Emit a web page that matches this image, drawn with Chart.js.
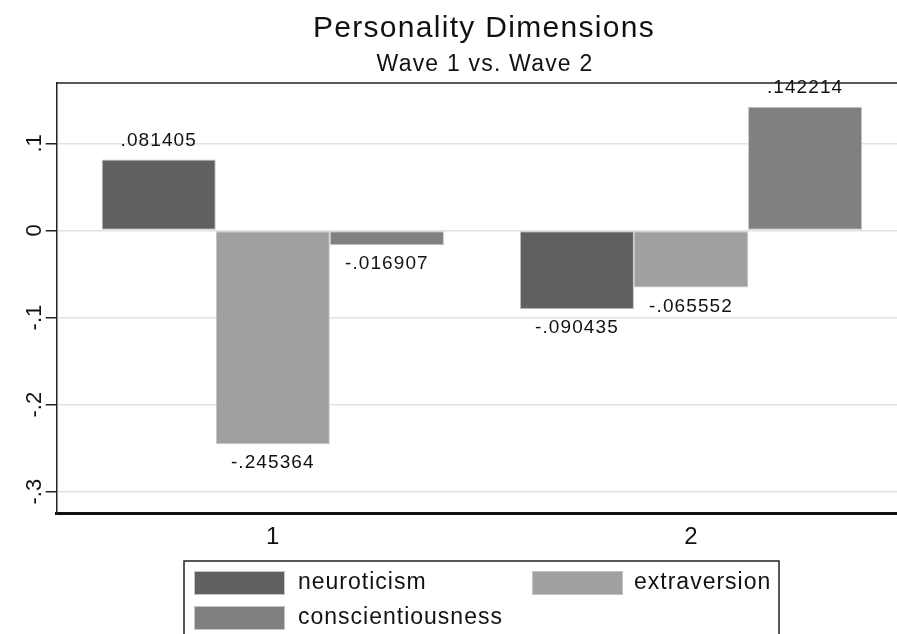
<!DOCTYPE html>
<html>
<head>
<meta charset="utf-8">
<script src="https://cdn.jsdelivr.net/npm/chart.js@4/dist/chart.umd.min.js"></script>
<style>
html,body{margin:0;padding:0;background:#fff;}
#wrap{width:897px;height:634px;position:relative;}
</style>
</head>
<body>
<div id="wrap"><canvas id="c" width="897" height="634"></canvas></div>
<script>
// ---- data ----
const chartTitle = 'Personality Dimensions';
const chartSubtitle = 'Wave 1 vs. Wave 2';
const waves = ['1', '2'];
const seriesNames = ['neuroticism', 'extraversion', 'conscientiousness'];
const neuroticism = [0.081405, -0.090435];
const extraversion = [-0.245364, -0.065552];
const conscientiousness = [-0.016907, 0.142214];
const yTickValues = [0.1, 0, -0.1, -0.2, -0.3];
const yTickLabels = ['.1', '0', '-.1', '-.2', '-.3'];
const seriesColors = ['#606060', '#a0a0a0', '#808080'];

const FONT = "'Liberation Sans', Arial, sans-serif";
const seriesValues = [neuroticism, extraversion, conscientiousness];

function fmt(v) {
  return v.toFixed(6).replace('0.', '.');
}

const datasets = seriesNames.map((name, i) => ({
  label: name,
  data: waves.map((w, j) => ({ x: j + 1, y: seriesValues[i][j] })),
  backgroundColor: seriesColors[i],
  borderColor: '#c4c4c4',
  borderWidth: 1,
  borderSkipped: false
}));

const decor = {
  id: 'decor',
  afterDatasetsDraw(chart) {
    const ctx = chart.ctx;
    const ca = chart.chartArea;
    ctx.save();
    // data labels
    ctx.font = '19px ' + FONT;
    ctx.letterSpacing = '1.1px';
    ctx.fillStyle = '#111';
    ctx.textAlign = 'center';
    ctx.textBaseline = 'middle';
    chart.data.datasets.forEach((ds, i) => {
      const meta = chart.getDatasetMeta(i);
      meta.data.forEach((el, j) => {
        const v = ds.data[j].y;
        const y = v >= 0 ? el.y - 19 : el.y + 19;
        ctx.fillText(fmt(v), el.x, y);
      });
    });
    ctx.restore();
  },
  afterDraw(chart) {
    const ctx = chart.ctx;
    const ca = chart.chartArea;
    ctx.save();
    // top border of plot region
    ctx.strokeStyle = '#222';
    ctx.lineWidth = 1.5;
    ctx.beginPath();
    ctx.moveTo(ca.left, ca.top);
    ctx.lineTo(chart.width, ca.top);
    ctx.stroke();

    // titles
    ctx.fillStyle = '#111';
    ctx.textAlign = 'center';
    ctx.textBaseline = 'alphabetic';
    ctx.font = '30px ' + FONT;
    ctx.letterSpacing = '1.3px';
    ctx.fillText(chartTitle, 484, 37);
    ctx.font = '23px ' + FONT;
    ctx.letterSpacing = '1.2px';
    ctx.fillText(chartSubtitle, 485, 71);

    // legend
    ctx.letterSpacing = '0px';
    ctx.strokeStyle = '#222';
    ctx.lineWidth = 1.5;
    ctx.strokeRect(184, 561, 595, 100);
    const pos = [
      { sx: 194, tx: 298, y: 571 },
      { sx: 532, tx: 634, y: 571 },
      { sx: 194, tx: 298, y: 606 }
    ];
    ctx.font = '23px ' + FONT;
    ctx.letterSpacing = '1px';
    ctx.textAlign = 'left';
    ctx.textBaseline = 'middle';
    chart.data.datasets.forEach((ds, i) => {
      const p = pos[i];
      ctx.fillStyle = ds.backgroundColor;
      ctx.fillRect(p.sx, p.y, 91, 24);
      ctx.strokeStyle = '#c4c4c4';
      ctx.lineWidth = 1;
      ctx.strokeRect(p.sx + 0.5, p.y + 0.5, 90, 23);
      ctx.fillStyle = '#111';
      ctx.fillText(ds.label, p.tx, p.y + 12);
    });
    ctx.restore();
  }
};

new Chart(document.getElementById('c'), {
  type: 'bar',
  data: { datasets },
  options: {
    responsive: false,
    animation: false,
    devicePixelRatio: 1,
    layout: { padding: { top: 83, left: 0, right: 0, bottom: 0 } },
    datasets: { bar: { categoryPercentage: 0.8185, barPercentage: 1.0, grouped: true } },
    plugins: {
      legend: { display: false },
      title: { display: false },
      tooltip: { enabled: false }
    },
    scales: {
      x: {
        type: 'linear',
        min: 0.4833,
        max: 2.4926,
        offset: false,
        grid: { display: false, drawTicks: false },
        border: { display: true, color: '#111', width: 3 },
        afterBuildTicks: (s) => { s.ticks = waves.map((w, i) => ({ value: i + 1 })); },
        afterFit: (s) => { s.height = 634 - 513.3 - 0; },
        ticks: {
          padding: 10,
          color: '#111',
          font: { family: FONT, size: 24 },
          autoSkip: false,
          maxRotation: 0,
          minRotation: 0,
          callback: (v) => waves[Math.round(v) - 1]
        }
      },
      y: {
        min: -0.3248,
        max: 0.1694,
        grid: { color: '#e2e2e2', lineWidth: 1.5, tickColor: '#222', tickLength: 11, tickWidth: 1.5 },
        border: { display: true, color: '#222', width: 1.5 },
        afterBuildTicks: (s) => { s.ticks = yTickValues.map(v => ({ value: v })); },
        afterFit: (s) => { s.width = 56.7; },
        ticks: {
          padding: -2,
          color: '#111',
          crossAlign: 'center',
          minRotation: 90,
          maxRotation: 90,
          font: { family: FONT, size: 22 },
          callback: (v) => {
            const k = yTickValues.findIndex(t => Math.abs(t - v) < 1e-9);
            return k >= 0 ? yTickLabels[k] : '';
          }
        }
      }
    }
  },
  plugins: [decor]
});
</script>
</body>
</html>
